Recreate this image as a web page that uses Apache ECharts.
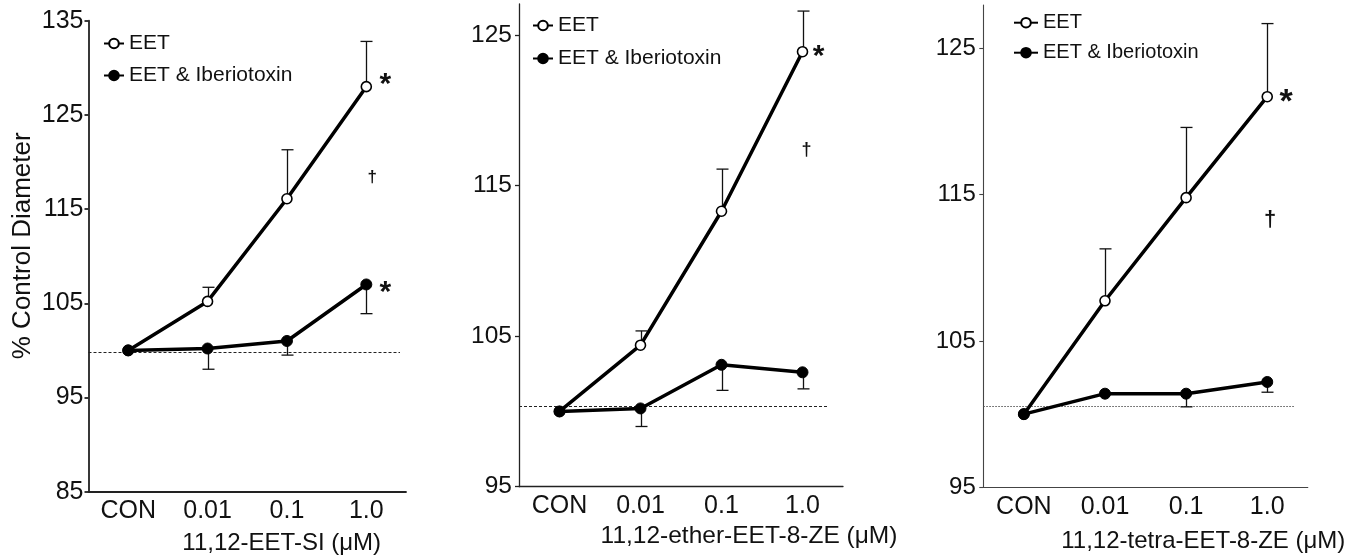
<!DOCTYPE html>
<html>
<head>
<meta charset="utf-8">
<script src="https://cdn.jsdelivr.net/npm/echarts@6/dist/echarts.min.js"></script>
<style>
  html, body { margin: 0; background: #fff; }
  #chart { width: 1365px; height: 560px; }
</style>
</head>
<body>
<div id="chart"></div>
<script>
var categories = ['CON', '0.01', '0.1', '1.0'];
var legendNames = ['EET', 'EET & Iberiotoxin'];
var yTitle = '% Control Diameter';

// 11,12-EET-SI
var eet1 = [100, 105.2, 116.1, 128.0];
var eetErr1 = [null, 106.7, 121.3, 132.8];
var ibtx1 = [100, 100.2, 101.0, 107.0];
var ibtxErr1 = [null, 98.0, 99.5, 103.9];
var base1 = 99.85;
var yTicks1 = [85, 95, 105, 115, 125, 135];
var marks1 = [[3, 128.9, '*'], [3, 106.8, '*'], [3, 118.4, '†']];
var xTitle1 = '11,12-EET-SI (μM)';

// 11,12-ether-EET-8-ZE
var eet2 = [100, 104.4, 113.3, 123.9];
var eetErr2 = [null, 105.35, 116.1, 126.6];
var ibtx2 = [100, 100.2, 103.1, 102.6];
var ibtxErr2 = [null, 99.0, 101.4, 101.5];
var base2 = 100.35;
var yTicks2 = [95, 105, 115, 125];
var marks2 = [[3, 124.0, '*'], [3, 117.4, '†']];
var xTitle2 = '11,12-ether-EET-8-ZE (μM)';

// 11,12-tetra-EET-8-ZE
var eet3 = [100, 107.75, 114.8, 121.7];
var eetErr3 = [null, 111.3, 119.6, 126.7];
var ibtx3 = [100, 101.4, 101.4, 102.2];
var ibtxErr3 = [null, null, 100.5, 101.5];
var base3 = 100.55;
var yTicks3 = [95, 105, 115, 125];
var marks3 = [[3, 121.8, '*'], [3, 113.3, '†']];
var xTitle3 = '11,12-tetra-EET-8-ZE (μM)';

var FONT = '"Liberation Sans", Arial, sans-serif';

// layout of the three panels
var panels = [
  { eet: eet1, eetErr: eetErr1, ibtx: ibtx1, ibtxErr: ibtxErr1, base: base1, ticks: yTicks1, marks: marks1, title: xTitle1,
    grid: { left: 88.5, top: 20.7, width: 317.5, height: 471 }, min: 85, max: 135,
    axisW: 1.8, axisC: '#222', yFont: 25, yMargin: 5, baseTrim: 6, baseDash: [3, 2], baseC: '#222',
    legend: { left: 103, top: 33, itemWidth: 20, itemGap: 11, fontSize: 21 },
    titlePos: [281.7, 543.3], titleFont: 24, starFont: 30, daggerFont: 17, dx: [19, 6] },
  { eet: eet2, eetErr: eetErr2, ibtx: ibtx2, ibtxErr: ibtxErr2, base: base2, ticks: yTicks2, marks: marks2, title: xTitle2,
    grid: { left: 519, top: 4, width: 324, height: 482.7 }, min: 95, max: 127.07,
    axisW: 1.3, axisC: '#222', yFont: 24.5, yMargin: 7, baseTrim: 16, baseDash: [3, 2], baseC: '#222',
    legend: { left: 532, top: 15, itemWidth: 20, itemGap: 12, fontSize: 21 },
    titlePos: [749, 536.7], titleFont: 24.5, starFont: 30, daggerFont: 18, dx: [16, 4] },
  { eet: eet3, eetErr: eetErr3, ibtx: ibtx3, ibtxErr: ibtxErr3, base: base3, ticks: yTicks3, marks: marks3, title: xTitle3,
    grid: { left: 983.3, top: 5, width: 324.5, height: 482.3 }, min: 95, max: 127.97,
    axisW: 1.1, axisC: '#444', yFont: 24, yMargin: 7.5, baseTrim: 14, baseDash: [1.5, 1.5], baseC: '#555',
    legend: { left: 1013, top: 12.7, itemWidth: 24, itemGap: 10, fontSize: 20 },
    titlePos: [1203.3, 541.7], titleFont: 24, starFont: 34, daggerFont: 22, dx: [19, 3] }
];

function errData(err, vals) {
  var out = [];
  err.forEach(function (e, k) {
    if (e != null) out.push([k, vals[k], e]);
  });
  return out;
}

function renderErr(params, api) {
  var a = api.coord([api.value(0), api.value(1)]);
  var b = api.coord([api.value(0), api.value(2)]);
  var x = Math.round(a[0]) + 0.5;
  var st = { stroke: '#111', lineWidth: 1.3 };
  return {
    type: 'group',
    children: [
      { type: 'line', shape: { x1: x, y1: a[1], x2: x, y2: b[1] }, style: st },
      { type: 'line', shape: { x1: x - 6, y1: b[1], x2: x + 6, y2: b[1] }, style: st }
    ]
  };
}

var grid = [], xAxis = [], yAxis = [], series = [], legend = [], graphic = [];

panels.forEach(function (p, i) {
  grid.push(Object.assign({ outerBoundsMode: 'none', containLabel: false }, p.grid));

  xAxis.push({
    type: 'category', gridIndex: i, data: categories, boundaryGap: true,
    axisLine: { lineStyle: { color: p.axisC, width: p.axisW } },
    axisTick: { alignWithLabel: true, length: 5, lineStyle: { color: p.axisC, width: p.axisW } },
    axisLabel: { fontSize: 25, fontFamily: FONT, color: '#111', margin: 7 },
    splitLine: { show: false }
  });

  yAxis.push({
    type: 'value', gridIndex: i, min: p.min, max: p.max,
    axisLine: { show: true, lineStyle: { color: p.axisC, width: p.axisW } },
    axisTick: { show: true, length: 4, customValues: p.ticks, lineStyle: { color: p.axisC, width: p.axisW } },
    axisLabel: { fontSize: p.yFont, fontFamily: FONT, color: '#111', margin: p.yMargin, customValues: p.ticks },
    splitLine: { show: false }
  });

  // dotted control level
  series.push({
    type: 'custom', xAxisIndex: i, yAxisIndex: i, z: 1, silent: true,
    data: [[0, p.base]],
    encode: { x: 0, y: 1 },
    renderItem: function (params, api) {
      var cs = params.coordSys;
      var y = Math.round(api.coord([0, api.value(1)])[1]) + 0.5;
      return {
        type: 'line',
        shape: { x1: cs.x, y1: y, x2: cs.x + cs.width - p.baseTrim, y2: y },
        style: { stroke: p.baseC, lineWidth: 1, lineDash: p.baseDash }
      };
    }
  });

  // error bars
  series.push({
    type: 'custom', xAxisIndex: i, yAxisIndex: i, z: 2, silent: true,
    data: errData(p.eetErr, p.eet).concat(errData(p.ibtxErr, p.ibtx)),
    encode: { x: 0, y: [1, 2] },
    renderItem: renderErr
  });

  series.push({
    name: legendNames[0], type: 'line', xAxisIndex: i, yAxisIndex: i, z: 3,
    data: p.eet, symbol: 'circle', symbolSize: 10,
    lineStyle: { color: '#000', width: 3.5 },
    itemStyle: { color: '#fff', borderColor: '#000', borderWidth: 1.6 }
  });
  series.push({
    name: legendNames[1], type: 'line', xAxisIndex: i, yAxisIndex: i, z: 4,
    data: p.ibtx, symbol: 'circle', symbolSize: 11,
    lineStyle: { color: '#000', width: 3.5 },
    itemStyle: { color: '#000', borderColor: '#000', borderWidth: 1 }
  });

  // significance marks
  series.push({
    type: 'custom', xAxisIndex: i, yAxisIndex: i, z: 5, silent: true,
    data: p.marks,
    encode: { x: 0, y: 1 },
    renderItem: function (params, api) {
      var pt = api.coord([api.value(0), api.value(1)]);
      var s = p.marks[params.dataIndex][2];
      var star = s === '*';
      var fs = star ? p.starFont : p.daggerFont;
      return {
        type: 'text',
        x: pt[0] + (star ? p.dx[0] : p.dx[1]),
        y: pt[1] + (star ? fs * 0.22 : 0),
        style: {
          text: s, fontSize: fs, fontWeight: 'bold', fontFamily: FONT,
          fill: '#111', align: 'center', verticalAlign: 'middle'
        }
      };
    }
  });

  legend.push({
    data: legendNames, orient: 'vertical', left: p.legend.left, top: p.legend.top,
    itemWidth: p.legend.itemWidth, itemHeight: 12, itemGap: p.legend.itemGap,
    selectedMode: false, padding: 0,
    textStyle: { fontSize: p.legend.fontSize, fontFamily: FONT, color: '#111' }
  });

  graphic.push({
    type: 'text', x: p.titlePos[0], y: p.titlePos[1],
    style: { text: p.title, fontSize: p.titleFont, fontFamily: FONT, fill: '#111', align: 'center', verticalAlign: 'middle' }
  });
});

graphic.push({
  type: 'text', x: 22.5, y: 245.8, rotation: Math.PI / 2,
  style: { text: yTitle, fontSize: 26, fontFamily: FONT, fill: '#111', align: 'center', verticalAlign: 'middle' }
});

var chart = echarts.init(document.getElementById('chart'));
chart.setOption({
  animation: false,
  backgroundColor: '#fff',
  grid: grid,
  xAxis: xAxis,
  yAxis: yAxis,
  legend: legend,
  series: series,
  graphic: graphic
});
</script>
</body>
</html>
